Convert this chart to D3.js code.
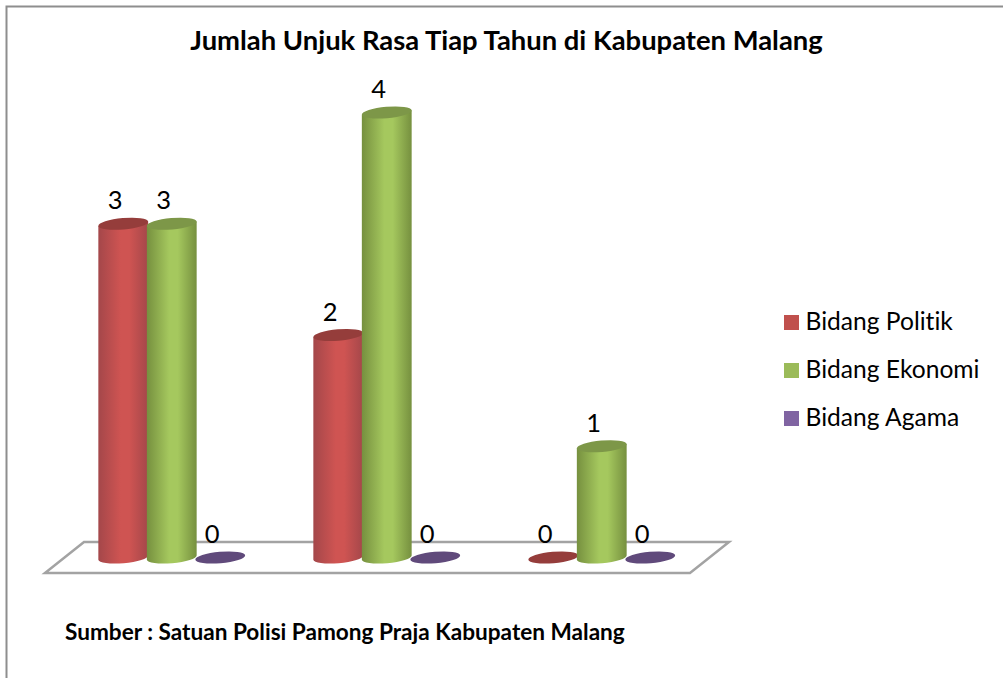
<!DOCTYPE html>
<html>
<head>
<meta charset="utf-8">
<script src="https://cdn.jsdelivr.net/npm/d3@7"></script>
<style>
	body { margin: 0; background: #fff; }
	text { font-family: Lato, "Open Sans", sans-serif; fill: #000; font-variant-ligatures: none; }
</style>
</head>
<body>
<div id="chart"></div>
<script>
// chart data
var categories = ["A", "B", "C"]; // no category names are shown on the chart
var seriesNames = ["Bidang Politik", "Bidang Ekonomi", "Bidang Agama"];
var politik = [3, 2, 0];
var ekonomi = [3, 4, 1];
var agama = [0, 0, 0];
var seriesValues = [politik, ekonomi, agama];

var titleText = "Jumlah Unjuk Rasa Tiap Tahun di Kabupaten Malang";
var sourceText = "Sumber : Satuan Polisi Pamong Praja Kabupaten Malang";

// colours per series: edge, middle, top of cylinder, legend
var edgeColors = ["#a4474a", "#76903f", "#604a7b"];
var midColors = ["#cf5452", "#a5c85e", "#8064a2"];
var capColors = ["#953d3b", "#7d9748", "#604a7b"];
var legendColors = ["#c0504d", "#9bbb59", "#8064a2"];

var width = 1003, height = 678;
var rx = 25, ry = 5.7, tilt = -5; // cylinder ellipse
var tiltRad = tilt * Math.PI / 180;

var svg = d3.select("#chart").append("svg")
	.attr("width", width)
	.attr("height", height)
	.style("display", "block");

// frame, only top and left are visible
svg.append("path")
	.attr("d", "M6.5," + height + "V6.5H" + width)
	.attr("fill", "none")
	.attr("stroke", "#8e8e8e")
	.attr("stroke-width", 2);

var x0 = d3.scaleBand().domain(categories).range([63, 708]);
var x1 = d3.scaleBand().domain(d3.range(seriesNames.length)).range([0, 145.5]);
var y = d3.scaleLinear().domain([0, 4]).range([557.5, 112.5]);

function centerX(catIdx, s) {
	return x0(categories[catIdx]) + 36 + x1(s) + x1.bandwidth() / 2;
}

// gradients for cylinder bodies
var defs = svg.append("defs");
seriesNames.forEach(function(name, s) {
	var grad = defs.append("linearGradient").attr("id", "cyl" + s);
	grad.append("stop").attr("offset", "0%").attr("stop-color", edgeColors[s]);
	grad.append("stop").attr("offset", "45%").attr("stop-color", midColors[s]);
	grad.append("stop").attr("offset", "62%").attr("stop-color", midColors[s]);
	grad.append("stop").attr("offset", "100%").attr("stop-color", edgeColors[s]);
});

// floor
var floorY = d3.scaleLinear().domain([0, 1]).range([573, 542]);
var floorLine = d3.line().x(function(d) { return d[0]; }).y(function(d) { return floorY(d[1]); });
svg.append("path")
	.attr("d", floorLine([[45, 0], [690, 0], [729, 1], [84, 1]]) + "Z")
	.attr("fill", "#fff")
	.attr("stroke", "#a3a3a3")
	.attr("stroke-width", 2.5);

// flatten so the zero discs go under the standing bars
var marks = [];
seriesValues.forEach(function(vals, s) {
	vals.forEach(function(v, c) {
		marks.push({ s: s, c: c, v: v });
	});
});
marks.sort(function(a, b) {
	return (a.v > 0) - (b.v > 0) || a.s - b.s;
});

function bodyPath(d) {
	var cx = centerX(d.c, d.s);
	var dx = rx * Math.cos(tiltRad), dy = rx * Math.sin(tiltRad);
	var yTop = y(d.v), yBot = y(0);
	return "M" + (cx - dx) + "," + (yTop - dy) +
		"L" + (cx - dx) + "," + (yBot - dy) +
		"A" + rx + "," + ry + " " + tilt + " 0 0 " + (cx + dx) + "," + (yBot + dy) +
		"L" + (cx + dx) + "," + (yTop + dy) + "Z";
}

var bars = svg.selectAll(".bar")
	.data(marks)
	.enter()
	.append("g")
	.attr("class", "bar");

bars.filter(function(d) { return d.v > 0; })
	.append("path")
	.attr("d", bodyPath)
	.attr("fill", function(d) { return "url(#cyl" + d.s + ")"; });

bars.append("ellipse")
	.attr("rx", rx)
	.attr("ry", ry)
	.attr("transform", function(d) {
		return "translate(" + centerX(d.c, d.s) + "," + y(d.v) + ") rotate(" + tilt + ")";
	})
	.attr("fill", function(d) { return capColors[d.s]; });

// value labels
svg.selectAll(".value")
	.data(marks)
	.enter()
	.append("text")
	.attr("class", "value")
	.attr("x", function(d) { return centerX(d.c, d.s) - 8; })
	.attr("y", function(d) { return y(d.v) - 14.5; })
	.attr("text-anchor", "middle")
	.attr("font-size", 25.5)
	.text(function(d) { return d.v; });

// title and source note
svg.append("text")
	.attr("x", 506.5)
	.attr("y", 50)
	.attr("text-anchor", "middle")
	.attr("font-size", 27.4)
	.attr("font-weight", 700)
	.text(titleText);

svg.append("text")
	.attr("x", 65)
	.attr("y", 640)
	.attr("font-size", 22.6)
	.attr("font-weight", 700)
	.text(sourceText);

// legend
var legendY = d3.scalePoint().domain(seriesNames).range([315, 411]);
var legend = svg.selectAll(".legend")
	.data(seriesNames)
	.enter()
	.append("g")
	.attr("class", "legend")
	.attr("transform", function(d) { return "translate(784," + legendY(d) + ")"; });

legend.append("rect")
	.attr("width", 15)
	.attr("height", 15)
	.attr("fill", function(d, i) { return legendColors[i]; });

legend.append("text")
	.attr("x", 21.5)
	.attr("y", 15)
	.attr("font-size", 24.6)
	.text(function(d) { return d; });
</script>
</body>
</html>
